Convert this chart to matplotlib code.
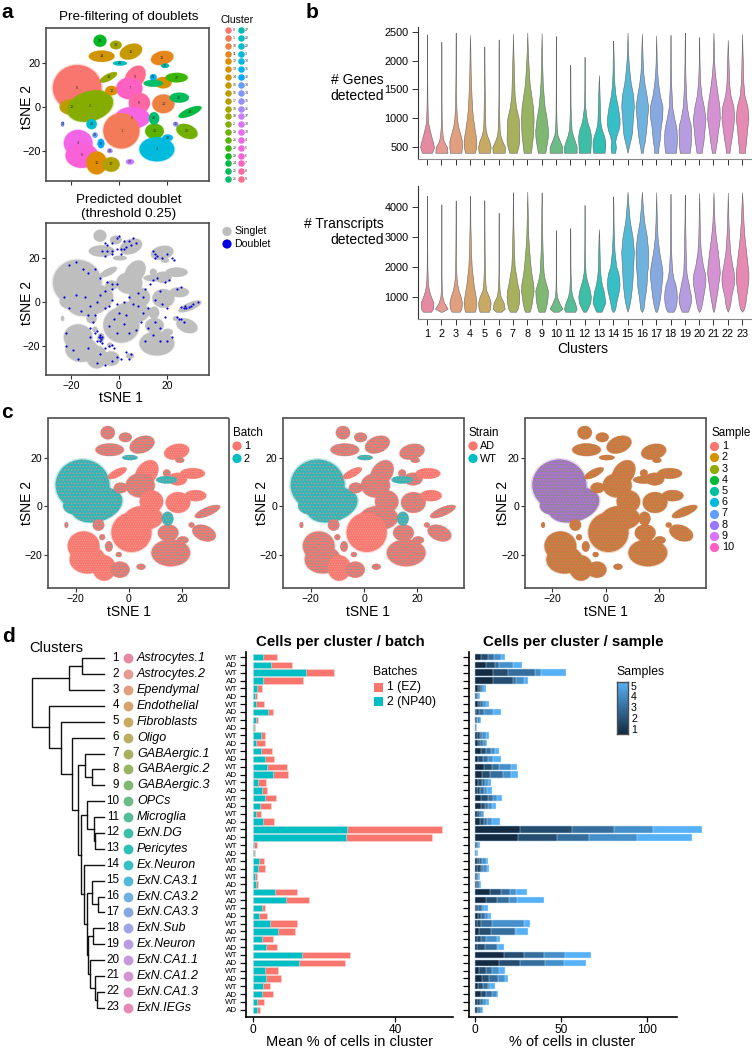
import numpy as np
import matplotlib
matplotlib.use('Agg')
import matplotlib.pyplot as plt
from matplotlib.colors import LinearSegmentedColormap
from matplotlib.patches import Ellipse, Rectangle

plt.rcParams['font.family'] = ['Liberation Sans', 'DejaVu Sans']
plt.rcParams['hatch.linewidth'] = 0.5

W, H = 752, 1050

# cluster legend of panel a, in the order of the factor levels
cluster_levels = ['0', '1', '10', '11', '12', '13', '14', '15', '16', '17', '18', '19', '2', '20', '21', '22', '23', '24', '25', '26',
                  '27', '28', '29', '3', '30', '31', '32', '33', '34', '35', '36', '37', '38', '39', '4', '5', '6', '7', '8', '9']
cluster_hues = ['#F8766D', '#F37B59', '#ED8141', '#E7861B', '#E08B00', '#D89000', '#CF9400', '#C59900', '#BB9D00', '#AFA100',
                '#A3A500', '#95A900', '#85AD00', '#72B000', '#5BB300', '#39B600', '#00B81F', '#00BA42', '#00BC59', '#00BE6C',
                '#00BFB0', '#00BFC4', '#00BDD0', '#00BBDB', '#00B8E5', '#00B4EF', '#00A9FF', '#619CFF', '#7F96FF', '#9590FF',
                '#A88AFF', '#C77CFF', '#DC71FA', '#E76BF3', '#F265E7', '#F564E3', '#FB61D7', '#FF61C3', '#FF67A4', '#FF6C91']

# t-SNE regions (centre, full width, full height, tilt)
blob_level = ['0', '16', '2', '19', '13', '9', '7', '8', '5', '1', '10', '11', '13', '22', '25', '24', '20', '21', '3', '30',
              '4', '6', '12', '17', '23', '18', '15', '14', '28', '29', '27', '31', '32', '33', '34', '35', '36', '37', '26', '26']
blob_x = [-17.4, -19.7, -12.0, -4.4, -3.1, 6.7, 4.3, 8.5, 5.6, 1.0, 18.5, 18.0, 18.4, 24.0, 25.1, 29.6, 28.3, 14.8, 15.8, 20.3,
          -17.0, -15.5, -9.3, -3.3, -7.9, -1.3, 5.0, -7.2, 0.4, -11.4, 19.2, 14.3, -7.5, -10.0, -23.5, 23.6, -3.8, 4.6, 14.6, 14.3]
blob_y = [8.8, 0.2, 0.6, 13.6, 7.6, 13.6, 8.6, 2.0, -4.7, -10.6, 1.6, 22.4, 11.2, 13.5, 4.4, -2.1, -10.9, -10.8, -19.0, -13.8,
          -16.2, -21.8, -25.2, -25.9, 30.2, 28.3, 25.3, 23.2, 20.0, -7.6, 18.9, 13.6, -16.4, -12.6, -7.6, -7.6, -19.7, -24.7, -5.0, 10.9]
blob_w = [19.5, 9.7, 19.0, 7.8, 5.0, 7.5, 10.5, 8.5, 13.9, 14.5, 8.9, 9.2, 6.8, 8.9, 7.8, 10.0, 9.0, 7.5, 14.0, 4.2,
          11.5, 13.0, 8.3, 6.9, 5.2, 4.7, 9.4, 10.3, 5.6, 4.2, 3.3, 2.8, 2.8, 2.2, 1.4, 2.2, 2.2, 3.3, 4.2, 7.8]
blob_h = [20.0, 7.0, 13.0, 3.0, 4.2, 11.0, 9.5, 8.8, 9.5, 15.5, 8.2, 6.0, 5.0, 4.2, 4.4, 3.4, 6.0, 6.6, 10.6, 3.0,
          11.5, 10.9, 10.0, 6.4, 5.3, 3.8, 6.4, 5.0, 2.1, 4.5, 2.1, 3.0, 4.2, 2.4, 2.4, 2.1, 2.1, 2.4, 5.5, 3.0]
blob_angle = [0, 0, 20, 30, 0, -30, 0, 0, 0, 0, 0, 15, 0, 0, 0, 25, -25, 0, 0, 0,
              0, 0, 0, 0, 0, 0, 25, 0, 0, 0, 0, 0, 0, 0, 0, 0, 0, 0, 0, 0]
# how strongly the second colour shows in each region (0 little, 1 some, 2 a lot)
batch_mix = [2, 2, 2, 0, 1, 0, 1, 0, 0, 0, 0, 0, 0, 0, 0, 1, 1, 1, 1, 1,
             0, 0, 0, 1, 1, 1, 1, 1, 2, 1, 1, 1, 1, 1, 1, 1, 1, 1, 2, 2]
strain_mix = [2, 2, 2, 0, 1, 1, 1, 1, 1, 0, 1, 1, 1, 0, 0, 1, 1, 1, 1, 1,
              1, 1, 0, 1, 1, 1, 1, 1, 2, 1, 1, 1, 1, 1, 1, 1, 1, 1, 2, 2]

# doublets of panel a, estimated dot by dot
doublet_x = [-6, -5, -3, -1, 0, 2, 4, 6, 7, 5, 3, 1, -1, -3, -5, -7, -6, -3, 1, 2,
             14, 15, 16, 18, 20, 22, 23, 15,
             -21, -18, -15, -13, -10, -8, -5, -3, -1, -3, -6, -8, -9, -12, -14, -18, -23, -21, -16, -13, -10, -6, -4, -3, -1, 2, 4, 6, 8, 10,
             11, 13, 14, 16, 19, 21, 17, 24, 26, 15, 18, 20, 12, 10, 8, 3, 0, -2, -4, 2, 4, -1, 7, 9, 12, 15, 17, 19, 14, 17, 20, 11, 22,
             -22, -22, -19, -17, -13, -12, -12, -11, -10, -9, -8, -8, -7.5, -8.5, -7, -8, -7, -9, -6, -8, -4, -3, -2, -1, 1, 3, 5, 4, -3, -6, -9,
             26, 27, 28, 29, 27.5, 30, 31, 33, 24, 25, 26, 27]
doublet_y = [27, 26, 27, 29, 30, 28, 28, 29, 27, 26, 25, 24, 24, 23, 23, 23, 21, 22, 22, 24,
             23, 22, 21, 20, 22, 20, 19, 20,
             17, 18, 15, 13, 15, 11, 9, 8, 8, 6, 5, 3, 0, -2, 2, 3, 2, -3, -4, -6, -6, -3, -2, 1, -1, 0, 2, -1, 4, 2,
             6, 8, 10, 11, 9, 10, 5, 6, 7, 1, -1, -3, -3, -5, -2, -6, -5, -8, -11, -10, -14, -14, -13, -9, -12, -9, -12, -7, -15, -18, -18, -18, -16,
             -14, -20, -22, -26, -21, -16, -12, -9, -14, -13.5, -15, -16, -17, -16, -16, -18, -19, -18, -21, -24, -20, -19.5, -21, -25, -26, -23, -24, -26, -27, -29, -28,
             -2.5, -3, -3, -2.5, -2, -2, -1, 0, -7, -8, -8, -9]

# violins: half width of the density at fixed levels
genes_levels = [400, 500, 600, 700, 800, 900, 1000, 1200, 1400, 1600, 1800, 2000, 2200]
genes_top = [2460, 2330, 2490, 2450, 2250, 2370, 2470, 2490, 2480, 2430, 1930, 2070, 1750, 2350, 2490, 2470, 2440, 2450, 2490, 2410, 2490, 2360, 2460]
genes_density = [
    [15, 21, 17, 12, 8, 4, 2.5, 1.5, 1, .7, .5, .5, .5],
    [18, 17, 7, 4, 2.5, 1.5, 1, .7, .5, .5, .5, .5, .5],
    [17, 19, 19, 15, 10, 6, 4, 2, 1.5, 1, .7, .5, .5],
    [15, 18.5, 19, 17, 14, 12, 9, 6, 4.5, 3, 2, 1.5, 1],
    [17, 19, 15, 8, 4, 3, 2.5, 2, 1.5, 1, .7, .5, .5],
    [18, 19, 11, 5, 3, 2.5, 2, 1, .7, .5, .5, .5, .5],
    [11, 16, 19, 19, 18, 18, 17, 9, 5, 4, 3, 2, 1],
    [11, 13, 15, 17, 18, 18.5, 19, 17, 12, 7, 5, 3, 1.5],
    [11, 14, 17, 19, 19, 17, 15, 9, 6, 3.5, 2.5, 1.5, 1],
    [19, 19, 12, 5, 3, 2, 1.5, 1, .7, .5, .5, .5, .5],
    [19, 19.5, 14, 8, 4, 3, 2, 1, .7, .5, .5, 0, 0],
    [17, 18, 19, 19, 16, 10, 6, 2, 1, .7, .5, .5, 0],
    [17, 19, 19, 15, 9, 5, 4, 3, 2, 1, .5, 0, 0],
    [6, 8, 6, 10, 16, 19, 19, 14, 7, 3.5, 2, 1.5, .7],
    [0, 4, 8, 12, 14, 15, 16, 19, 17, 10, 6, 3, 1.5],
    [3, 5, 9, 11, 13, 14.5, 16, 19, 14, 8, 4, 2.5, 1.5],
    [6, 7, 10, 11.5, 13, 15, 18, 19, 11, 6, 3, 1.5, 1],
    [16, 18, 19, 19, 18, 15, 11, 5, 3.5, 2, 1.5, 1, .7],
    [15, 17, 18, 18.5, 19, 17, 12, 6, 4, 2.5, 1.5, 1, .7],
    [8, 10, 13, 14.5, 16, 18, 19, 14, 7, 3.5, 2, 1, .7],
    [5, 7, 10, 12, 14, 17, 19, 18, 13, 8, 4, 2, 1.5],
    [5, 7, 10, 12.5, 15, 17, 19, 17, 8, 4, 3, 2, 1],
    [9, 10, 12, 13.5, 15, 17, 19, 16, 7, 4, 2.5, 2, 1]]
transcripts_levels = [500, 600, 800, 1000, 1200, 1400, 1600, 1800, 2000, 2500, 3000, 3500, 4000]
transcripts_top = [4370, 4080, 4210, 4360, 4220, 3800, 4480, 4500, 4480, 3220, 3290, 4060, 3250, 4340, 4500, 4500, 4480, 4430, 4400, 4460, 4480, 4470, 4480]
transcripts_density = [
    [12, 18, 19, 12, 6, 3, 2, 1.5, 1, .7, .5, .5, .5],
    [3, 19, 8, 3, 1.5, 1, .7, .5, .5, .5, .5, .5, .5],
    [12, 17, 19, 15, 9, 5, 3, 2, 1.5, 1, .7, .5, .5],
    [15, 17, 19, 17, 14, 11, 9, 7, 5, 3, 2, 1, .7],
    [14, 17, 19, 14, 6, 3.5, 2.5, 2, 1.5, 1, .7, .5, .5],
    [8, 18, 15, 6, 3, 2, 1, .7, .5, .5, .5, .5, 0],
    [9, 14, 18, 19, 18, 14, 11, 8, 5, 3, 2, 1, .7],
    [7, 10, 14, 16, 19, 18, 15, 12, 10, 6, 3, 2, 1],
    [9, 12, 16, 18, 19, 14, 9, 6, 5, 3, 2, 1.2, .8],
    [8, 19, 10, 3, 1.5, 1, .7, .5, .5, .5, .3, 0, 0],
    [15, 19, 14, 7, 3, 2, 1.5, 1, .7, .5, .3, 0, 0],
    [4, 9, 17, 19, 16, 11, 6, 3, 2, 1, .7, .5, .3],
    [8, 12, 19, 17, 14, 9, 6, 4, 3, 2, 1, 0, 0],
    [2, 6, 9, 13, 17, 19, 18, 15, 9, 4, 2, 1, .7],
    [0, 3, 7, 10, 12, 14, 15, 16, 17, 19, 15, 7, 3],
    [1, 5, 7, 9, 12, 14, 15, 16, 18, 19, 15, 7, 3],
    [2, 5, 9, 12, 14, 16, 18, 19, 17, 9, 4, 2, 1],
    [9, 14, 18, 19, 18, 15, 9, 6, 4, 2, 1.5, 1, .8],
    [9, 13, 18, 19, 15, 12, 8, 5, 4, 2.5, 2, 1, .7],
    [1, 5, 9, 12, 15, 18, 19, 17, 12, 5, 2.5, 1.5, 1],
    [1, 3, 6, 9, 12, 14, 17, 19, 18, 13, 7, 3, 1.5],
    [0, 4, 8, 10, 14, 18, 19, 18, 14, 7, 4, 2, 1],
    [0, 6, 10, 12, 15, 17, 19, 19, 17, 12, 7, 4, 2]]

# panel d
cell_types = ['Astrocytes.1', 'Astrocytes.2', 'Ependymal', 'Endothelial', 'Fibroblasts', 'Oligo', 'GABAergic.1', 'GABAergic.2',
              'GABAergic.3', 'OPCs', 'Microglia', 'ExN.DG', 'Pericytes', 'Ex.Neuron', 'ExN.CA3.1', 'ExN.CA3.2', 'ExN.CA3.3',
              'ExN.Sub', 'Ex.Neuron', 'ExN.CA1.1', 'ExN.CA1.2', 'ExN.CA1.3', 'ExN.IEGs']
cluster_colors = ['#E58AA0', '#E59A94', '#E0A07F', '#D6A36F', '#C8AA62', '#BAAE62', '#A8B05E', '#98B361', '#7FB873', '#6DBB87',
                  '#55BE98', '#3DBEA7', '#2FBFB5', '#36BFC6', '#52BAD6', '#6FB2DE', '#87A9E2', '#A1A3E2', '#B79CE0', '#C797DC',
                  '#D492D2', '#DE8EC4', '#E68AB1']
# (x of the join, child, child); leaves are cluster numbers
tree = (32, (69, (82, 1, 2), 3),
        (49, 4, (61, 5, (72, 6, (78,
            (85, 7, (92, 8, 9)),
            (81, (87, 10, (94, 11, (95, 12, 13))),
                 (84, 14, (87, (92, 15, (98, 16, 17)),
                               (88, (93, 18, 19),
                                    (90, 20, (95, 21, (97, 22, 23))))))))))))

# one row per WT, AD bar
batch2 = [3.0, 5.15, 14.9, 3.0, 1.3, .65, .9, 4.2, .85, .2, 2.3, .85, 2.25, 3.55, 4.0, 5.6, 1.5, 2.45, 3.45, 1.9, .95, 3.0, 26.5, 26.1,
          .3, .4, 1.6, 1.4, .75, .85, 6.1, 9.3, 2.45, 1.7, 4.95, 7.2, 2.55, 3.75, 13.7, 13.0, 3.55, 3.75, 2.9, 2.55, 1.3, 1.1]
batch_total = [6.9, 11.15, 22.7, 14.2, 2.5, 1.2, 3.2, 5.6, 1.5, .55, 3.55, 3.3, 5.4, 5.9, 9.65, 10.0, 3.75, 4.05, 6.55, 5.25, 2.25, 5.9, 53.2, 50.5,
               1.1, .65, 3.2, 3.45, 1.2, 1.5, 12.4, 15.75, 3.45, 4.05, 12.45, 12.0, 5.8, 6.75, 27.25, 26.05, 7.2, 7.85, 4.85, 5.7, 3.2, 1.95]
# running totals over samples 1 to 5
sample_ends = [
    [3.5, 7.8, 11.1, 15.1, 17.7], [6.4, 11.8, 14.2, 22.3, 27.4], [10.5, 19.4, 34.8, 38.4, 52.8], [10.5, 22.3, 23.9, 28.7, 31.1],
    [1.6, 2.9, 4.3, 5.2, 6.2], [.6, 1.2, 1.6, 2.1, 2.9], [1.6, 3.1, 4.9, 6.2, 8.4], [.8, 2.3, 5.4, 10.5, 15.1],
    [.4, 1.0, 1.4, 2.7, 3.5], [.2, .4, .6, .8, 1.2], [1.2, 2.9, 4.3, 6.2, 8.2], [1.6, 2.7, 4.7, 6.2, 7.2],
    [3.5, 6.6, 9.1, 11.5, 13.8], [1.9, 4.7, 7.8, 10.5, 14.9], [5.2, 9.7, 14.2, 20.8, 24.5], [4.3, 8.7, 16.1, 20.8, 25.0],
    [1.9, 4.1, 5.8, 7.8, 9.3], [1.4, 2.9, 5.4, 7.2, 10.1], [3.7, 7.8, 10.5, 13.0, 15.9], [3.7, 5.8, 7.4, 10.1, 12.2],
    [1.2, 2.3, 3.5, 4.5, 5.4], [2.7, 5.4, 7.2, 9.9, 14.4], [26.2, 56.7, 81.0, 103.9, 132.0], [25.2, 47.9, 66.6, 94.4, 126.2],
    [.6, 1.4, 1.9, 2.5, 2.7], [.2, .4, .8, 1.2, 1.6], [1.2, 2.3, 4.1, 6.2, 7.6], [1.2, 3.3, 4.9, 6.8, 8.2],
    [.6, 1.0, 1.6, 2.3, 2.9], [.6, 1.4, 2.3, 3.1, 3.7], [8.9, 15.1, 20.4, 23.9, 30.5], [6.6, 12.8, 19.6, 24.7, 40.2],
    [.8, 1.9, 3.9, 5.0, 7.6], [1.6, 3.3, 5.6, 7.8, 9.3], [1.2, 3.5, 9.7, 28.5, 32.0], [2.3, 9.3, 23.3, 24.1, 30.9],
    [1.2, 3.5, 6.6, 13.0, 14.4], [1.4, 5.8, 12.8, 13.6, 16.9], [16.7, 28.5, 40.2, 52.4, 67.6], [14.0, 26.0, 40.6, 51.8, 64.5],
    [2.5, 6.6, 10.1, 14.0, 17.7], [4.1, 8.2, 13.6, 17.5, 19.2], [1.9, 4.7, 7.4, 8.5, 11.7], [3.5, 6.6, 10.1, 12.6, 13.6],
    [1.4, 2.7, 4.9, 6.2, 8.2], [1.2, 1.9, 3.1, 3.9, 4.7]]

RED = '#F8766D'
TEAL = '#00BFC4'
sample_levels = ['1', '2', '3', '4', '5', '6', '7', '8', '9', '10']
sample_colors = ['#F8766D', '#D39200', '#93AA00', '#00BA38', '#00C19F', '#00B9E3', '#619CFF', '#9A77FF', '#DB72FB', '#FF61C3']
blue_map = LinearSegmentedColormap.from_list('samples', ['#132B43', '#56B1F7'])
SPINE = '#4d4d4d'


def axes_px(left, top, right, bottom):
    return fig.add_axes([left / W, 1 - bottom / H, (right - left) / W, (bottom - top) / H])


def tsne_axes(box, xlabels=True, size=7.8):
    ax = axes_px(*box)
    ax.set_xlim(-30.4, 37.5)
    ax.set_ylim(-33.4, 36.0)
    ax.set_xticks([-20, 0, 20])
    ax.set_yticks([-20, 0, 20])
    if not xlabels:
        ax.set_xticklabels([])
    ax.tick_params(labelsize=size, length=3, width=0.8, pad=1, color='#333333')
    for s in ax.spines.values():
        s.set_linewidth(1.2)
        s.set_color(SPINE)
    return ax


def draw_blobs(ax, faces, hatch_colors=None, hatches=None, extra=None):
    # soft halo first, so the edges fade out like the scattered cells do
    for i in range(len(blob_level)):
        ax.add_patch(Ellipse((blob_x[i], blob_y[i]), blob_w[i] * 1.1, blob_h[i] * 1.1, angle=blob_angle[i],
                             facecolor=faces[i], alpha=0.3, linewidth=0))
    for i in range(len(blob_level)):
        kw = {'facecolor': faces[i], 'linewidth': 0}
        if hatches is not None:
            kw['edgecolor'] = hatch_colors[i]
            kw['hatch'] = hatches[i]
        size = (blob_w[i] * 1.04, blob_h[i] * 1.04)
        ax.add_patch(Ellipse((blob_x[i], blob_y[i]), size[0], size[1], angle=blob_angle[i], **kw))
        if extra is not None:
            ax.add_patch(Ellipse((blob_x[i], blob_y[i]), size[0], size[1], angle=blob_angle[i],
                                 fill=False, edgecolor=extra[0][i], hatch=extra[1][i], linewidth=0))


def violins(ax, levels, tops, density, ylim, yticks, labels):
    for i in range(23):
        ys = np.array(levels + [tops[i]])
        half = np.array(density[i] + [0.0]) / 43.0
        keep = ys <= tops[i]
        ys, half = ys[keep], half[keep]
        ax.fill_betweenx(ys, i + 1 - half, i + 1 + half, facecolor=cluster_colors[i], edgecolor='#666666', linewidth=0.4)
    ax.set_xlim(0.39, 23.6)
    ax.set_ylim(*ylim)
    ax.set_yticks(yticks)
    ax.set_xticks(range(1, 24))
    ax.set_xticklabels(labels)
    ax.tick_params(labelsize=7.8, length=4, width=0.7, pad=3, color='#333333')
    ax.spines['top'].set_visible(False)
    ax.spines['right'].set_visible(False)
    ax.spines['left'].set_color('#333333')
    ax.spines['bottom'].set_color('#888888')


fig = plt.figure(figsize=(W / 100, H / 100), dpi=100)

# overlay in pixels for the free text, legends and the tree
ov = fig.add_axes([0, 0, 1, 1], zorder=5)
ov.set_xlim(0, W)
ov.set_ylim(H, 0)
ov.axis('off')
ov.patch.set_alpha(0)

for letter, x, y in [('a', 1, 12), ('b', 306, 12), ('c', 1, 413), ('d', 2, 637)]:
    ov.text(x, y, letter, fontsize=15, fontweight='bold', va='center')

# panel a, clusters
ax = tsne_axes((46, 28, 209, 181), xlabels=False)
level_color = dict(zip(cluster_levels, cluster_hues))
draw_blobs(ax, [level_color[k] for k in blob_level])
seen = set()
for i, k in enumerate(blob_level):
    if k not in seen:
        seen.add(k)
        ax.text(blob_x[i], blob_y[i], k, fontsize=2.8, ha='center', va='center', color='#333333')
ov.text(129, 17, 'Pre-filtering of doublets', fontsize=9.7, ha='center', va='center')
ov.text(27, 107, 'tSNE 2', fontsize=10, rotation=90, ha='center', va='center')
ov.text(237, 20, 'Cluster', fontsize=7.5, ha='center', va='center')
for i, k in enumerate(cluster_levels):
    col, row = divmod(i, 20)
    ov.scatter(228 + 12.5 * col, 30 + 7.85 * row, s=22, color=cluster_hues[i], linewidths=0)
    ov.text(232.5 + 12.5 * col, 30 + 7.85 * row, k, fontsize=2.5, va='center', color='#333333')

# panel a, doublets
ax = tsne_axes((46, 223, 209, 375), size=7.4)
draw_blobs(ax, ['#BEBEBE'] * len(blob_level))
ax.scatter(doublet_x, doublet_y, s=2.5, color='#0000E0', linewidths=0)
ov.text(129, 200, 'Predicted doublet', fontsize=9.7, ha='center', va='center')
ov.text(129, 214, '(threshold 0.25)', fontsize=9.7, ha='center', va='center')
ov.text(27, 303, 'tSNE 2', fontsize=10, rotation=90, ha='center', va='center')
ov.text(121, 398, 'tSNE 1', fontsize=10, ha='center', va='center')
ov.scatter([227, 227], [231.5, 244], s=44, color=['#BEBEBE', '#0000E0'], linewidths=0)
ov.text(234, 231.5, 'Singlet', fontsize=7.6, va='center')
ov.text(234, 244, 'Doublet', fontsize=7.6, va='center')

# panel b
ax = axes_px(418.3, 26.7, 750.7, 159.3)
violins(ax, genes_levels, genes_top, genes_density, (286, 2592), [500, 1000, 1500, 2000, 2500], [])
ax = axes_px(418.3, 186, 750.7, 319)
violins(ax, transcripts_levels, transcripts_top, transcripts_density, (257, 4690), [1000, 2000, 3000, 4000],
        [str(i) for i in range(1, 24)])
ov.text(384, 80, '# Genes', fontsize=10, ha='right', va='center')
ov.text(384, 96, 'detected', fontsize=10, ha='right', va='center')
ov.text(384, 224, '# Transcripts', fontsize=10, ha='right', va='center')
ov.text(384, 240, 'detected', fontsize=10, ha='right', va='center')
ov.text(583, 349, 'Clusters', fontsize=10, ha='center', va='center')

# panel c: dots of the second colour over a base colour give the speckle
mix_face = ['#F8776E', RED, '#2FB8BA']
mix_hatch_color = ['#EE9C96', '#3FB6B8', '#F8857C']
mix_hatch = ['.......', '......', '.....']
n = len(blob_level)
ax = tsne_axes((48, 418.5, 228.5, 588), size=7.6)
draw_blobs(ax, [mix_face[m] for m in batch_mix], [mix_hatch_color[m] for m in batch_mix], [mix_hatch[m] for m in batch_mix])
ax = tsne_axes((283, 418.5, 464, 588), size=7.6)
draw_blobs(ax, [mix_face[m] for m in strain_mix], [mix_hatch_color[m] for m in strain_mix], [mix_hatch[m] for m in strain_mix])
ax = tsne_axes((524.7, 418.5, 705.7, 588), size=7.6)
main_blobs = ['0', '16', '2']
sample_face = ['#9A79CC' if k in main_blobs else '#D8714A' for k in blob_level]
sample_hatch = ['#8E9A3A' if k in main_blobs else '#8FA035' for k in blob_level]
draw_blobs(ax, sample_face, sample_hatch, ['.......'] * n,
           extra=(['#D860F0' if k in main_blobs else '#C98A3C' for k in blob_level], ['.....'] * n))
for x0, x1 in [(27, 129), (262, 368), (503, 606)]:
    ov.text(x0, 503, 'tSNE 2', fontsize=10, rotation=90, ha='center', va='center')
    ov.text(x1, 612, 'tSNE 1', fontsize=10, ha='center', va='center')

ov.text(233, 433, 'Batch', fontsize=8.4, va='center')
ov.scatter([237, 237], [446, 458.5], s=44, color=[RED, TEAL], linewidths=0)
ov.text(244, 446, '1', fontsize=7.8, va='center')
ov.text(244, 458.5, '2', fontsize=7.8, va='center')
ov.text(468.5, 433, 'Strain', fontsize=8.4, va='center')
ov.scatter([473, 473], [446, 458.5], s=44, color=[RED, TEAL], linewidths=0)
ov.text(480, 446, 'AD', fontsize=7.8, va='center')
ov.text(480, 458.5, 'WT', fontsize=7.8, va='center')
ov.text(711, 433, 'Sample', fontsize=8.4, va='center')
for i, k in enumerate(sample_levels):
    ov.scatter(714.3, 446 + 11.25 * i, s=44, color=sample_colors[i], linewidths=0)
    ov.text(722, 446 + 11.25 * i, k, fontsize=7.8, va='center')


# panel d, tree
def leaf_y(n):
    return 658.3 + 15.88 * (n - 1)


def draw_tree(node):
    if isinstance(node, int):
        return 104, leaf_y(node)
    x, a, b = node
    xa, ya = draw_tree(a)
    xb, yb = draw_tree(b)
    ov.plot([xa, x, x, xb], [ya, ya, yb, yb], color='#111111', lw=1.0, solid_joinstyle='miter')
    return x, (ya + yb) / 2


draw_tree(tree)
ov.text(29, 648, 'Clusters', fontsize=10.5, va='center')
for i, name in enumerate(cell_types):
    y = leaf_y(i + 1)
    ov.text(119, y - 0.5, str(i + 1), fontsize=8.4, ha='right', va='center')
    ov.scatter(127.7, y, s=50, color=cluster_colors[i], linewidths=0)
    ov.text(137, y, name, fontsize=9, fontstyle='italic', va='center')

# panel d, bars
rows = np.arange(46)
row_labels = ['WT', 'AD'] * 23
ax = axes_px(245.7, 652, 453, 1016.7)
ax.barh(rows, batch_total, height=0.82, color=RED, edgecolor='#FFD5D0', linewidth=0.4)
ax.barh(rows, batch2, height=0.82, color=TEAL, edgecolor='#B5ECEE', linewidth=0.4)
ax.set_xlim(-2, 56.3)
ax.set_ylim(45.88, -0.64)
ax.set_xticks([0, 40])
ax.set_yticks(rows)
ax.set_yticklabels(row_labels, fontsize=5.9)
bx = axes_px(469, 652, 677, 1016.7)
ends = np.array(sample_ends)
for s in range(4, -1, -1):
    # the longest bars run past the end of the axis line, as in the original
    bx.barh(rows, ends[:, s], height=0.82, color=blue_map(s / 4), edgecolor='#D8ECFB', linewidth=0.3, clip_on=False)
bx.set_xlim(-3.5, 117.7)
bx.set_ylim(45.88, -0.64)
bx.set_xticks([0, 50, 100])
bx.set_yticks(rows)
bx.set_yticklabels([])
for a in (ax, bx):
    a.spines['top'].set_visible(False)
    a.spines['right'].set_visible(False)
    a.spines['left'].set_linewidth(1.2)
    a.spines['bottom'].set_linewidth(1.2)
    a.tick_params(axis='x', labelsize=8.6, length=3.5, width=0.9, pad=2)
    a.tick_params(axis='y', length=4, width=0.9, pad=2)

ov.text(340, 642, 'Cells per cluster / batch', fontsize=10.8, fontweight='bold', ha='center', va='center')
ov.text(573, 642, 'Cells per cluster / sample', fontsize=10.8, fontweight='bold', ha='center', va='center')
ov.text(349, 1042, 'Mean % of cells in cluster', fontsize=10.5, ha='center', va='center')
ov.text(572, 1042, '% of cells in cluster', fontsize=10.5, ha='center', va='center')

ov.text(373, 671.7, 'Batches', fontsize=8.8, va='center')
ov.add_patch(Rectangle((373.7, 682.7), 9.3, 9.3, color=RED, linewidth=0))
ov.add_patch(Rectangle((373.7, 697), 9.3, 9.3, color=TEAL, linewidth=0))
ov.text(387, 687.3, '1 (EZ)', fontsize=8.8, va='center')
ov.text(387, 701.7, '2 (NP40)', fontsize=8.8, va='center')

ov.text(616.5, 671.7, 'Samples', fontsize=8.8, va='center')
cb = axes_px(617, 682, 627.5, 734)
cb.imshow(np.linspace(1, 0, 64).reshape(-1, 1), aspect='auto', cmap=blue_map)
cb.set_xticks([])
cb.set_yticks([])
for s in cb.spines.values():
    s.set_linewidth(1.0)
    s.set_color(SPINE)
for i, label in enumerate(['5', '4', '3', '2', '1']):
    ov.text(631, 686.7 + 10.8 * i, label, fontsize=7.6, va='center')

fig.savefig('out.png', dpi=100)
